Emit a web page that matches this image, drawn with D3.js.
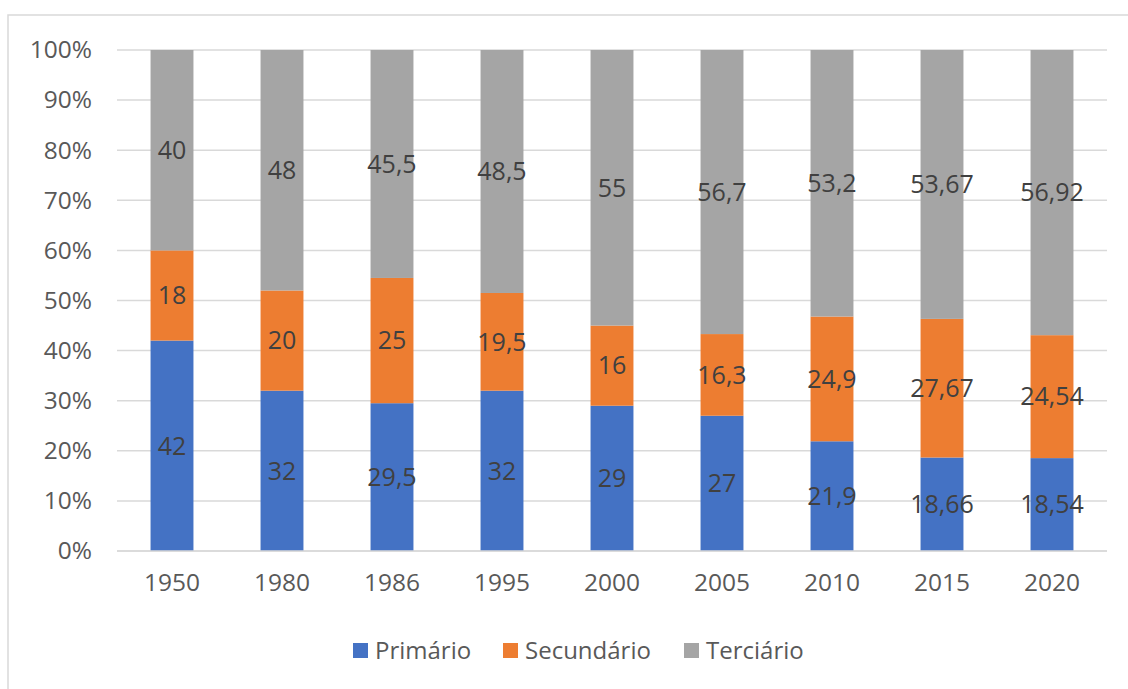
<!DOCTYPE html>
<html>
<head>
<meta charset="utf-8">
<script src="https://cdn.jsdelivr.net/npm/d3@7"></script>
<style>
  body { margin: 0; background: #fff; }
  text { font-family: "Open Sans", "Noto Sans", sans-serif; }
</style>
</head>
<body>
<div id="chart"></div>
<script>
const years = ["1950", "1980", "1986", "1995", "2000", "2005", "2010", "2015", "2020"];
const primario = [42, 32, 29.5, 32, 29, 27, 21.9, 18.66, 18.54];
const secundario = [18, 20, 25, 19.5, 16, 16.3, 24.9, 27.67, 24.54];
const terciario = [40, 48, 45.5, 48.5, 55, 56.7, 53.2, 53.67, 56.92];
const seriesNames = ["Primário", "Secundário", "Terciário"];
const colors = ["#4472C4", "#ED7D31", "#A5A5A5"];
const yTicks = [0, 10, 20, 30, 40, 50, 60, 70, 80, 90, 100];

const width = 1128;
const height = 689;
const margin = { top: 50, right: 21, bottom: 138, left: 117 };
const chartWidth = width - margin.left - margin.right;
const chartHeight = height - margin.top - margin.bottom;

const rows = years.map((y, i) => ({
  year: y,
  "Primário": primario[i],
  "Secundário": secundario[i],
  "Terciário": terciario[i],
}));

const stacked = d3.stack().keys(seriesNames).offset(d3.stackOffsetExpand)(rows);

const svg = d3
  .select("#chart")
  .append("svg")
  .attr("width", width)
  .attr("height", height);

// outer chart border (cropped at right/bottom in the original)
svg
  .append("rect")
  .attr("x", 8)
  .attr("y", 15)
  .attr("width", width + 20)
  .attr("height", height + 20)
  .attr("fill", "none")
  .attr("stroke", "#D9D9D9")
  .attr("stroke-width", 1.5);

const g = svg.append("g").attr("transform", `translate(${margin.left},${margin.top})`);

const xScale = d3
  .scaleBand()
  .domain(years)
  .range([0, chartWidth])
  .paddingInner(0.61)
  .paddingOuter(0.305);

const yScale = d3.scaleLinear().domain([0, 1]).range([chartHeight, 0]);

// gridlines
g.selectAll(".grid")
  .data(yTicks)
  .enter()
  .append("line")
  .attr("class", "grid")
  .attr("x1", 0)
  .attr("x2", chartWidth)
  .attr("y1", (d) => yScale(d / 100))
  .attr("y2", (d) => yScale(d / 100))
  .attr("stroke", "#D9D9D9")
  .attr("stroke-width", 1.5);

// y axis labels
const yAxis = g
  .append("g")
  .call(d3.axisLeft(yScale).tickValues(yTicks.map((d) => d / 100)).tickFormat(d3.format(".0%")).tickSize(0).tickPadding(25));
yAxis.select(".domain").remove();
yAxis.selectAll("text").attr("fill", "#595959").style("font-size", "24.5px");

// bars
const layer = g
  .selectAll(".layer")
  .data(stacked)
  .enter()
  .append("g")
  .attr("class", "layer")
  .attr("fill", (d, i) => colors[i]);

layer
  .selectAll("rect")
  .data((d) => d)
  .enter()
  .append("rect")
  .attr("x", (d) => xScale(d.data.year))
  .attr("y", (d) => yScale(d[1]))
  .attr("width", xScale.bandwidth())
  .attr("height", (d) => yScale(d[0]) - yScale(d[1]));

// data labels
layer
  .selectAll("text")
  .data((d) => d.map((p) => ({ p: p, key: d.key })))
  .enter()
  .append("text")
  .attr("x", (d) => xScale(d.p.data.year) + xScale.bandwidth() / 2)
  .attr("y", (d) => yScale((d.p[0] + d.p[1]) / 2))
  .attr("dy", "0.35em")
  .attr("text-anchor", "middle")
  .attr("fill", "#404040")
  .style("font-size", "25px")
  .text((d) => String(d.p.data[d.key]).replace(".", ","));

// bottom axis line
g.append("line")
  .attr("x1", 0)
  .attr("x2", chartWidth)
  .attr("y1", chartHeight)
  .attr("y2", chartHeight)
  .attr("stroke", "#D9D9D9")
  .attr("stroke-width", 1.5);

// x axis labels
const xAxis = g
  .append("g")
  .attr("transform", `translate(0,${chartHeight})`)
  .call(d3.axisBottom(xScale).tickSize(0).tickPadding(23));
xAxis.select(".domain").remove();
xAxis.selectAll("text").attr("fill", "#595959").style("font-size", "24.5px");

// legend
const legendX = [353, 503, 684];
const legend = svg
  .selectAll(".legend")
  .data(seriesNames)
  .enter()
  .append("g")
  .attr("class", "legend")
  .attr("transform", (d, i) => `translate(${legendX[i]}, 643)`);

legend
  .append("rect")
  .attr("width", 15)
  .attr("height", 15)
  .attr("fill", (d, i) => colors[i]);

legend
  .append("text")
  .attr("x", 22)
  .attr("y", 8)
  .attr("dy", "0.35em")
  .attr("fill", "#595959")
  .style("font-size", "24px")
  .text((d) => d);
</script>
</body>
</html>
